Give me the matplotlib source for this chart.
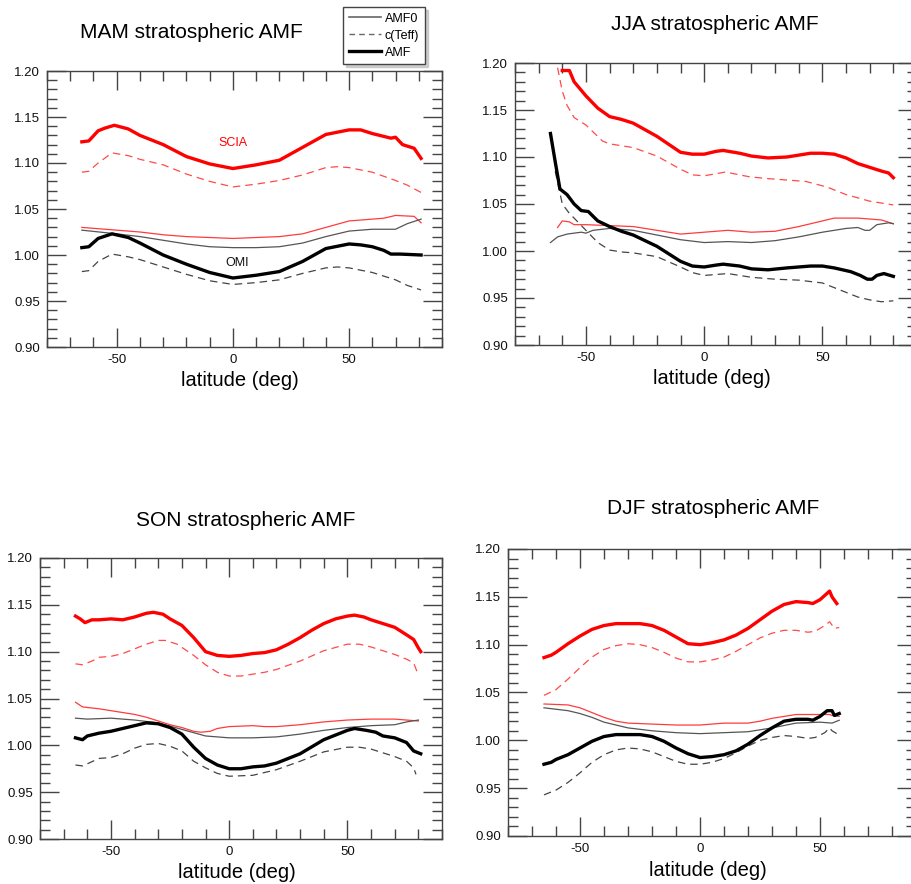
import numpy as np
import matplotlib
matplotlib.use("Agg")
import matplotlib.pyplot as plt
from matplotlib.lines import Line2D
from matplotlib.ticker import MultipleLocator, FormatStrFormatter

plt.rcParams['font.family'] = ['Liberation Sans', 'DejaVu Sans']
plt.rcParams['axes.unicode_minus'] = False

# ---- MAM ----
mam_lat_scia_amf = [-65, -62, -58, -55, -51, -45, -40, -30, -20, -10, 0, 10, 20, 30, 40, 50, 55, 60, 68, 70, 73, 78, 81]
mam_scia_amf = [1.123, 1.124, 1.135, 1.138, 1.141, 1.137, 1.130, 1.120, 1.107, 1.099, 1.094, 1.098, 1.103, 1.117, 1.131, 1.136, 1.136, 1.132, 1.127, 1.128, 1.120, 1.116, 1.105]
mam_lat_scia_ceff = [-65, -62, -58, -52, -45, -40, -30, -20, -10, 0, 10, 20, 30, 40, 45, 50, 60, 70, 75, 81]
mam_scia_ceff = [1.090, 1.091, 1.100, 1.111, 1.108, 1.104, 1.098, 1.088, 1.080, 1.074, 1.077, 1.081, 1.087, 1.095, 1.096, 1.095, 1.090, 1.081, 1.076, 1.068]
mam_lat_scia_amf0 = [-65, -50, -40, -30, -20, -10, 0, 10, 20, 30, 40, 50, 60, 65, 70, 78, 81]
mam_scia_amf0 = [1.030, 1.027, 1.025, 1.022, 1.020, 1.019, 1.018, 1.019, 1.020, 1.023, 1.030, 1.037, 1.039, 1.040, 1.043, 1.042, 1.035]
mam_lat_omi_amf0 = [-65, -50, -40, -30, -20, -10, 0, 10, 20, 30, 40, 50, 60, 70, 75, 81]
mam_omi_amf0 = [1.027, 1.023, 1.020, 1.016, 1.012, 1.009, 1.008, 1.008, 1.009, 1.013, 1.020, 1.026, 1.028, 1.028, 1.034, 1.039]
mam_lat_omi_amf = [-65, -62, -58, -52, -45, -40, -30, -20, -10, 0, 10, 20, 30, 40, 50, 55, 60, 65, 68, 72, 81]
mam_omi_amf = [1.008, 1.009, 1.018, 1.023, 1.019, 1.013, 1.000, 0.990, 0.981, 0.975, 0.978, 0.982, 0.993, 1.007, 1.012, 1.011, 1.009, 1.005, 1.001, 1.001, 1.000]
mam_lat_omi_ceff = [-65, -62, -58, -52, -45, -40, -30, -20, -10, 0, 10, 20, 30, 40, 45, 50, 60, 70, 75, 81]
mam_omi_ceff = [0.982, 0.983, 0.993, 1.001, 0.998, 0.995, 0.987, 0.979, 0.972, 0.968, 0.970, 0.973, 0.980, 0.986, 0.987, 0.986, 0.981, 0.973, 0.967, 0.962]

# ---- JJA ----
jja_lat_scia_amf = [-60, -57, -55, -53, -50, -45, -40, -35, -30, -20, -10, -5, 0, 5, 8, 15, 20, 27, 35, 45, 50, 55, 60, 65, 70, 75, 78, 80]
jja_scia_amf = [1.192, 1.192, 1.180, 1.174, 1.165, 1.152, 1.143, 1.140, 1.136, 1.122, 1.105, 1.103, 1.103, 1.106, 1.107, 1.104, 1.101, 1.099, 1.100, 1.104, 1.104, 1.103, 1.099, 1.093, 1.089, 1.085, 1.083, 1.078]
jja_lat_scia_ceff = [-62, -60, -58, -55, -50, -43, -40, -30, -20, -10, -5, 0, 9, 19, 27, 43, 52, 60, 70, 80]
jja_scia_ceff = [1.195, 1.170, 1.155, 1.142, 1.134, 1.117, 1.114, 1.110, 1.101, 1.087, 1.081, 1.080, 1.084, 1.079, 1.077, 1.074, 1.068, 1.060, 1.053, 1.049]
jja_lat_scia_amf0 = [-62, -60, -57, -55, -50, -40, -30, -20, -10, 0, 10, 20, 30, 40, 50, 55, 65, 75, 80]
jja_scia_amf0 = [1.025, 1.032, 1.031, 1.028, 1.028, 1.027, 1.026, 1.022, 1.018, 1.020, 1.022, 1.020, 1.021, 1.026, 1.032, 1.035, 1.035, 1.033, 1.029]
jja_lat_omi_amf0 = [-65, -62, -58, -52, -50, -47, -40, -30, -20, -10, 0, 10, 20, 30, 40, 50, 60, 65, 68, 70, 73, 78, 80]
jja_omi_amf0 = [1.009, 1.015, 1.018, 1.020, 1.019, 1.022, 1.024, 1.022, 1.017, 1.012, 1.009, 1.010, 1.009, 1.011, 1.015, 1.020, 1.024, 1.025, 1.022, 1.022, 1.028, 1.030, 1.029]
jja_lat_omi_amf = [-65, -63, -61, -58, -55, -52, -49, -45, -40, -35, -30, -25, -20, -15, -10, -5, 0, 5, 8, 15, 20, 27, 35, 45, 50, 55, 62, 66, 69, 71, 73, 76, 80]
jja_omi_amf = [1.125, 1.095, 1.066, 1.060, 1.050, 1.043, 1.042, 1.032, 1.026, 1.021, 1.017, 1.011, 1.005, 0.997, 0.989, 0.984, 0.983, 0.985, 0.986, 0.984, 0.981, 0.980, 0.982, 0.984, 0.984, 0.982, 0.978, 0.974, 0.970, 0.970, 0.974, 0.976, 0.973]
jja_lat_omi_ceff = [-63, -60, -57, -55, -50, -45, -40, -35, -30, -25, -20, -10, -5, 0, 10, 20, 30, 40, 50, 55, 60, 65, 70, 75, 80]
jja_omi_ceff = [1.085, 1.050, 1.040, 1.035, 1.022, 1.009, 1.001, 0.999, 0.998, 0.996, 0.994, 0.983, 0.977, 0.974, 0.976, 0.972, 0.970, 0.969, 0.966, 0.961, 0.956, 0.951, 0.948, 0.946, 0.947]

# ---- SON ----
son_lat_scia_amf = [-65, -63, -61, -58, -55, -50, -45, -40, -35, -32, -28, -25, -20, -15, -10, -5, 0, 5, 10, 15, 20, 25, 30, 35, 40, 45, 50, 53, 57, 60, 65, 70, 75, 78, 80, 81]
son_scia_amf = [1.138, 1.135, 1.131, 1.134, 1.134, 1.135, 1.134, 1.137, 1.141, 1.142, 1.140, 1.135, 1.128, 1.115, 1.100, 1.096, 1.095, 1.096, 1.098, 1.099, 1.102, 1.108, 1.115, 1.123, 1.130, 1.135, 1.138, 1.139, 1.137, 1.134, 1.130, 1.126, 1.118, 1.113, 1.104, 1.100]
son_lat_scia_ceff = [-65, -62, -58, -55, -50, -45, -40, -35, -30, -27, -22, -15, -10, -5, 0, 5, 10, 15, 20, 30, 40, 50, 55, 60, 65, 70, 75, 78, 80]
son_scia_ceff = [1.087, 1.086, 1.090, 1.094, 1.095, 1.098, 1.103, 1.108, 1.112, 1.112, 1.108, 1.096, 1.086, 1.078, 1.074, 1.074, 1.076, 1.078, 1.081, 1.090, 1.101, 1.108, 1.108, 1.105, 1.101, 1.097, 1.092, 1.088, 1.075]
son_lat_scia_amf0 = [-65, -62, -55, -50, -40, -35, -30, -25, -20, -15, -12, -8, -5, 0, 10, 15, 20, 30, 40, 50, 60, 70, 75, 80]
son_scia_amf0 = [1.046, 1.041, 1.039, 1.037, 1.033, 1.030, 1.026, 1.022, 1.019, 1.015, 1.014, 1.015, 1.018, 1.020, 1.021, 1.020, 1.020, 1.022, 1.025, 1.027, 1.028, 1.028, 1.027, 1.026]
son_lat_omi_amf0 = [-65, -60, -50, -40, -30, -20, -10, 0, 10, 20, 30, 40, 50, 60, 70, 75, 80]
son_omi_amf0 = [1.029, 1.028, 1.029, 1.027, 1.024, 1.017, 1.010, 1.008, 1.008, 1.009, 1.012, 1.016, 1.019, 1.021, 1.022, 1.025, 1.027]
son_lat_omi_amf = [-65, -62, -60, -55, -50, -45, -40, -35, -30, -25, -20, -15, -10, -5, 0, 5, 10, 15, 20, 30, 40, 50, 53, 58, 62, 65, 70, 75, 78, 81]
son_omi_amf = [1.008, 1.006, 1.010, 1.013, 1.015, 1.018, 1.021, 1.024, 1.023, 1.019, 1.012, 0.998, 0.986, 0.979, 0.975, 0.975, 0.977, 0.978, 0.981, 0.991, 1.006, 1.016, 1.018, 1.016, 1.014, 1.010, 1.008, 1.003, 0.994, 0.991]
son_lat_omi_ceff = [-65, -62, -55, -50, -45, -40, -35, -30, -25, -20, -15, -10, -5, 0, 10, 20, 30, 40, 50, 55, 60, 65, 70, 75, 78, 79]
son_omi_ceff = [0.979, 0.978, 0.986, 0.987, 0.991, 0.997, 1.001, 1.002, 0.999, 0.994, 0.983, 0.976, 0.970, 0.967, 0.968, 0.974, 0.983, 0.993, 0.998, 0.998, 0.996, 0.992, 0.988, 0.983, 0.976, 0.969]

# ---- DJF ----
djf_lat_scia_amf = [-65, -62, -60, -55, -50, -45, -40, -35, -30, -25, -20, -15, -10, -5, 0, 5, 10, 15, 20, 25, 30, 35, 40, 45, 47, 50, 54, 55, 57]
djf_scia_amf = [1.0865, 1.089, 1.092, 1.101, 1.109, 1.116, 1.120, 1.122, 1.122, 1.122, 1.120, 1.115, 1.108, 1.101, 1.100, 1.102, 1.105, 1.110, 1.117, 1.126, 1.135, 1.142, 1.145, 1.144, 1.143, 1.147, 1.156, 1.150, 1.143]
djf_lat_scia_ceff = [-65, -60, -55, -50, -45, -40, -35, -30, -25, -20, -15, -10, -5, 0, 5, 10, 15, 20, 25, 30, 35, 40, 45, 48, 52, 54, 56, 58]
djf_scia_ceff = [1.047, 1.053, 1.064, 1.076, 1.087, 1.095, 1.099, 1.101, 1.100, 1.097, 1.092, 1.086, 1.082, 1.082, 1.084, 1.087, 1.093, 1.100, 1.107, 1.112, 1.115, 1.115, 1.113, 1.114, 1.120, 1.124, 1.117, 1.118]
djf_lat_scia_amf0 = [-65, -55, -50, -45, -40, -35, -30, -20, -10, 0, 10, 20, 25, 30, 35, 40, 45, 50, 54, 55, 58]
djf_scia_amf0 = [1.038, 1.037, 1.034, 1.029, 1.024, 1.020, 1.018, 1.017, 1.016, 1.016, 1.018, 1.018, 1.020, 1.023, 1.025, 1.027, 1.027, 1.027, 1.027, 1.026, 1.025]
djf_lat_omi_amf0 = [-65, -55, -50, -45, -40, -35, -30, -20, -10, 0, 10, 20, 30, 40, 50, 55, 58]
djf_omi_amf0 = [1.034, 1.031, 1.028, 1.024, 1.019, 1.016, 1.013, 1.010, 1.008, 1.007, 1.008, 1.009, 1.013, 1.018, 1.019, 1.018, 1.021]
djf_lat_omi_amf = [-65, -62, -60, -55, -50, -45, -40, -35, -30, -25, -20, -15, -10, -5, 0, 5, 10, 15, 20, 25, 30, 35, 40, 45, 47, 50, 53, 55, 56, 58]
djf_omi_amf = [0.975, 0.977, 0.980, 0.985, 0.992, 0.999, 1.004, 1.006, 1.006, 1.006, 1.004, 0.999, 0.992, 0.986, 0.982, 0.983, 0.985, 0.989, 0.996, 1.005, 1.013, 1.020, 1.022, 1.022, 1.021, 1.025, 1.031, 1.031, 1.026, 1.028]
djf_lat_omi_ceff = [-65, -60, -55, -50, -45, -40, -35, -30, -25, -20, -15, -10, -5, 0, 5, 10, 15, 20, 25, 30, 35, 40, 45, 48, 52, 54, 55, 57, 58]
djf_omi_ceff = [0.943, 0.948, 0.956, 0.966, 0.977, 0.985, 0.990, 0.992, 0.991, 0.988, 0.983, 0.978, 0.975, 0.975, 0.977, 0.981, 0.987, 0.994, 1.000, 1.003, 1.005, 1.004, 1.002, 1.003, 1.008, 1.013, 1.010, 1.007, 1.007]

seasons = ["MAM", "JJA", "SON", "DJF"]

W, H = 912, 884
fig = plt.figure(figsize=(W / 100, H / 100), dpi=100)
fig.patch.set_facecolor('white')

# axes boxes in pixels: x0, y0(top), x1, y1(bottom)
boxes = {"MAM": (47, 71, 442, 347), "JJA": (515, 63, 917, 345),
         "SON": (40, 558, 442, 839), "DJF": (508, 549, 916, 836)}
title_pos = {"MAM": (191, 33), "JJA": (715, 25), "SON": (246, 520), "DJF": (713, 508)}
xlab_pos = {"MAM": (240, 380), "JJA": (712, 378), "SON": (237, 873), "DJF": (708, 870)}

data = {
    "MAM": [(mam_lat_scia_amf0, mam_scia_amf0), (mam_lat_scia_ceff, mam_scia_ceff), (mam_lat_scia_amf, mam_scia_amf),
            (mam_lat_omi_amf0, mam_omi_amf0), (mam_lat_omi_ceff, mam_omi_ceff), (mam_lat_omi_amf, mam_omi_amf)],
    "JJA": [(jja_lat_scia_amf0, jja_scia_amf0), (jja_lat_scia_ceff, jja_scia_ceff), (jja_lat_scia_amf, jja_scia_amf),
            (jja_lat_omi_amf0, jja_omi_amf0), (jja_lat_omi_ceff, jja_omi_ceff), (jja_lat_omi_amf, jja_omi_amf)],
    "SON": [(son_lat_scia_amf0, son_scia_amf0), (son_lat_scia_ceff, son_scia_ceff), (son_lat_scia_amf, son_scia_amf),
            (son_lat_omi_amf0, son_omi_amf0), (son_lat_omi_ceff, son_omi_ceff), (son_lat_omi_amf, son_omi_amf)],
    "DJF": [(djf_lat_scia_amf0, djf_scia_amf0), (djf_lat_scia_ceff, djf_scia_ceff), (djf_lat_scia_amf, djf_scia_amf),
            (djf_lat_omi_amf0, djf_omi_amf0), (djf_lat_omi_ceff, djf_omi_ceff), (djf_lat_omi_amf, djf_omi_amf)],
}

# color, linewidth, linestyle for: scia amf0, ceff, amf, omi amf0, ceff, amf
styles = [('#ff3b3b', 0.9, '-'), ('#ff4a4a', 0.9, (0, (6, 4))), ('#ff0000', 2.4, '-'),
          ('#555555', 0.9, '-'), ('#444444', 0.9, (0, (6, 4))), ('#000000', 2.4, '-')]

spine_col = '#444444'

for s in seasons:
    x0, y0, x1, y1 = boxes[s]
    ax = fig.add_axes([x0 / W, 1 - y1 / H, (x1 - x0) / W, (y1 - y0) / H])
    for (lat, val), (c, lw, ls) in zip(data[s], styles):
        ax.plot(lat, val, color=c, lw=lw, linestyle=ls)
    ax.set_xlim(-80, 90)
    ax.set_ylim(0.90, 1.20)
    ax.xaxis.set_major_locator(MultipleLocator(50))
    ax.xaxis.set_minor_locator(MultipleLocator(10))
    ax.yaxis.set_major_locator(MultipleLocator(0.05))
    ax.yaxis.set_minor_locator(MultipleLocator(0.01))
    ax.yaxis.set_major_formatter(FormatStrFormatter('%.2f'))
    ax.tick_params(which='both', direction='in', top=True, right=True, color=spine_col, width=1,
                   labelsize=9.5, labelcolor='#111111')
    ax.tick_params(which='major', length=14, pad=5)
    ax.tick_params(which='minor', length=7)
    for sp in ax.spines.values():
        sp.set_color(spine_col)
        sp.set_linewidth(1)
    tx, ty = title_pos[s]
    fig.text(tx / W, 1 - ty / H, s + " stratospheric AMF", ha='center', va='center', fontsize=15)
    lx, ly = xlab_pos[s]
    fig.text(lx / W, 1 - ly / H, "latitude (deg)", ha='center', va='center', fontsize=14.5)
    if s == "MAM":
        ax.text(0, 1.122, "SCIA", color='#ff0000', ha='center', va='center', fontsize=9)
        ax.text(2, 0.991, "OMI", color='#111111', ha='center', va='center', fontsize=9)

handles = [Line2D([], [], color='#666666', lw=1.2),
           Line2D([], [], color='#666666', lw=1.0, linestyle=(0, (4, 3))),
           Line2D([], [], color='#000000', lw=2.4)]
leg = fig.legend(handles, ["AMF0", "c(Teff)", "AMF"], loc='upper left',
                 bbox_to_anchor=(343 / W, 1 - 7 / H), fontsize=9, frameon=True, fancybox=False,
                 shadow={'color': '#bbbbbb', 'alpha': 0.7}, edgecolor=spine_col,
                 handlelength=2.6, handletextpad=0.3,
                 borderpad=0.45, labelspacing=0.4, borderaxespad=0)
leg.get_frame().set_linewidth(1)

fig.savefig("out.png", dpi=100)
